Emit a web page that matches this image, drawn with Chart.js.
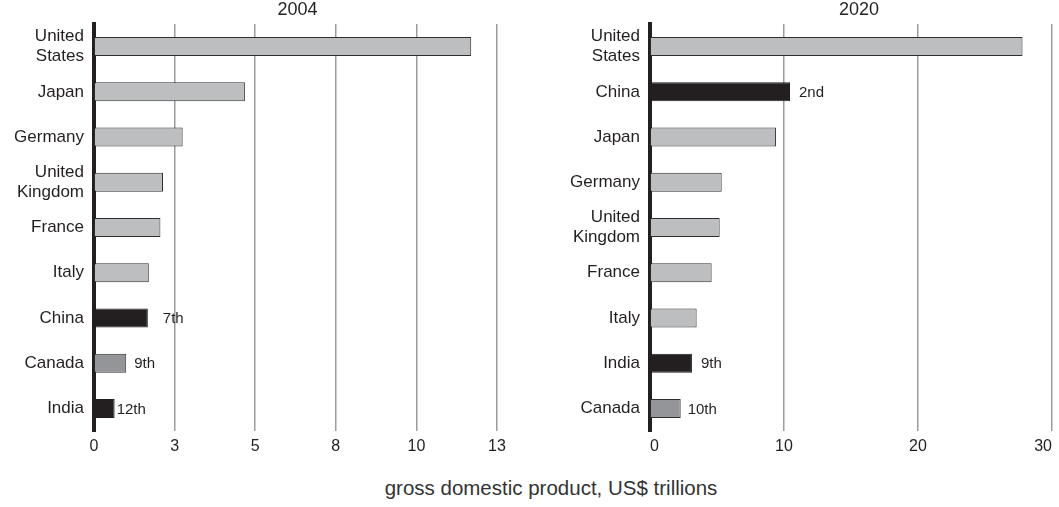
<!DOCTYPE html>
<html>
<head>
<meta charset="utf-8">
<script src="https://cdn.jsdelivr.net/npm/chart.js@4"></script>
<style>
  body { margin: 0; background: #fff; width: 1059px; height: 507px; overflow: hidden; position: relative; font-family: "Liberation Sans", Arial, sans-serif; }
  canvas { position: absolute; top: 0; }
  #leftChart { left: 0; }
  #rightChart { left: 540px; }
  #axisTitle { position: absolute; left: 301px; width: 500px; top: 476px; text-align: center; font-size: 20.5px; color: #333; }
</style>
</head>
<body>
<canvas id="leftChart" width="540" height="470"></canvas>
<canvas id="rightChart" width="519" height="470"></canvas>
<div id="axisTitle">gross domestic product, US$ trillions</div>
<script>
// 2004 ranking
const leftCountries = [["United", "States"], "Japan", "Germany", ["United", "Kingdom"], "France", "Italy", "China", "Canada", "India"];
const leftGdp = [11.7, 4.68, 2.75, 2.14, 2.06, 1.70, 1.67, 1.0, 0.64];
const leftRanks = ["", "", "", "", "", "", "7th", "9th", "12th"];
const leftTicks = ["0", "3", "5", "8", "10", "13"];

// 2020 ranking
const rightCountries = [["United", "States"], "China", "Japan", "Germany", ["United", "Kingdom"], "France", "Italy", "India", "Canada"];
const rightGdp = [27.8, 10.45, 9.4, 5.35, 5.2, 4.6, 3.48, 3.13, 2.29];
const rightRanks = ["", "2nd", "", "", "", "", "", "9th", "10th"];
const rightTicks = ["0", "10", "20", "30"];

const FONT = '"Liberation Sans", Arial, sans-serif';
const INK = "#231f20";

function barColor(name) {
  const n = [].concat(name).join(" ");
  if (n === "China" || n === "India") return INK;
  if (n === "Canada") return "#939598";
  return "#bcbec0";
}

function makeChart(id, countries, gdp, ranks, ticks, cfg) {
  const colors = countries.map(barColor);

  // year heading + rank notes next to the highlighted bars
  const extras = {
    id: "extras",
    afterDatasetsDraw(chart) {
      const ctx = chart.ctx;
      const area = chart.chartArea;
      ctx.save();
      ctx.fillStyle = INK;
      ctx.font = "18px " + FONT;
      ctx.textAlign = "center";
      ctx.textBaseline = "middle";
      ctx.fillText(cfg.title, (area.left + area.right) / 2 + cfg.titleDx, 10);

      ctx.font = "15px " + FONT;
      ctx.textAlign = "left";
      chart.getDatasetMeta(0).data.forEach((bar, i) => {
        if (!ranks[i]) return;
        ctx.fillText(ranks[i], bar.x + (cfg.rankDx[i] ?? 8), bar.y + 1);
      });
      ctx.restore();
    }
  };

  return new Chart(document.getElementById(id), {
    type: "bar",
    data: {
      labels: countries,
      datasets: [{
        data: gdp,
        backgroundColor: colors,
        borderColor: colors.map(c => c === INK ? INK : "#2e2e2e"),
        borderWidth: 1,
        borderSkipped: "left",
        categoryPercentage: 1,
        barPercentage: 0.42
      }]
    },
    options: {
      indexAxis: "y",
      responsive: false,
      animation: false,
      layout: { padding: { top: 24, right: cfg.padRight, bottom: 9, left: 0 } },
      plugins: { legend: { display: false }, tooltip: { enabled: false } },
      scales: {
        x: {
          min: 0,
          max: cfg.max,
          ticks: {
            stepSize: cfg.step,
            padding: 6,
            align: cfg.tickAlign,
            color: INK,
            font: { family: FONT, size: 16 },
            callback: (v, i) => ticks[i]
          },
          grid: { color: "#9a9c9f", lineWidth: 1.5, drawTicks: false },
          border: { display: false },
          afterFit: s => { s.height = 30; }
        },
        y: {
          ticks: {
            padding: 10,
            color: INK,
            font: { family: FONT, size: 17, lineHeight: 1.2 }
          },
          grid: { display: false, drawTicks: false },
          border: { color: INK, width: 4 },
          afterFit: s => { s.width = cfg.yWidth; }
        }
      }
    },
    plugins: [extras]
  });
}

makeChart("leftChart", leftCountries, leftGdp, leftRanks, leftTicks, {
  max: 12.5, step: 2.5, yWidth: 94, padRight: 43, title: "2004", titleDx: 2,
  tickAlign: "center", rankDx: { 6: 15, 7: 8, 8: 2 }
});

makeChart("rightChart", rightCountries, rightGdp, rightRanks, rightTicks, {
  max: 30, step: 10, yWidth: 110, padRight: 7, title: "2020", titleDx: 8,
  tickAlign: "inner", rankDx: { 1: 9, 7: 9, 8: 7 }
});
</script>
</body>
</html>
